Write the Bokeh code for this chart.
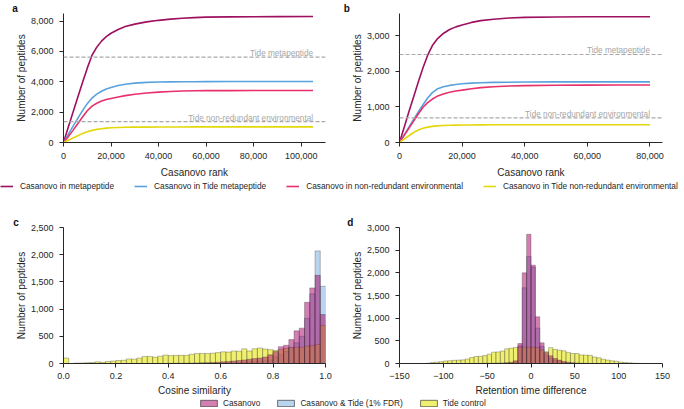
from bokeh.plotting import figure
from bokeh.models import (Range1d, FixedTicker, NumeralTickFormatter, CustomJSTickFormatter,
                          Span, Legend, LegendItem, Title)
from bokeh.layouts import column, row
from bokeh.embed import file_html
from bokeh.resources import INLINE
from bokeh.core.properties import value

FONT = "Liberation Sans"
INK = "#262626"
NAN = float("nan")

# ---------------- data: panel a (metapeptide search, ranks up to ~105k)
rank_a = [0, 2000, 4000, 6000, 8000, 10000, 12000, 14000, 16000, 18000, 20000, 23000,
          26000, 30000, 35000, 40000, 45000, 50000, 55000, 60000, 70000, 80000, 90000, 105000]
a_meta = [0, 1000, 1990, 2980, 3950, 4900, 5750, 6280, 6680, 6980, 7200, 7450,
          7640, 7800, 7950, 8050, 8130, 8190, 8230, 8260, 8280, 8290, 8295, 8300]
a_tide_meta = [0, 530, 1060, 1590, 2100, 2560, 2930, 3190, 3380, 3520, 3630, 3750,
               3840, 3910, 3960, 3985, 3995, 4000, 4005, 4010, 4015, 4020, 4020, 4020]
a_env = [0, 380, 800, 1240, 1680, 2090, 2400, 2590, 2730, 2830, 2900, 3000,
         3090, 3180, 3260, 3320, 3360, 3390, 3405, 3415, 3420, 3425, 3425, 3425]
a_tide_env = [0, 150, 300, 450, 590, 710, 800, 865, 910, 945, 970, 990,
              1000, 1010, 1015, 1020, 1022, 1025, 1027, 1028, 1030, 1030, 1030, 1030]
tide_a = [5630, 1380]

# ---------------- data: panel b
rank_b = [0, 1500, 3000, 4500, 6000, 7500, 9000, 10500, 12000, 14000, 16000, 18000,
          20000, 23000, 26000, 30000, 35000, 40000, 50000, 60000, 70000, 80000]
b_meta = [0, 430, 860, 1280, 1700, 2100, 2450, 2720, 2900, 3060, 3170, 3245,
          3300, 3370, 3420, 3460, 3495, 3510, 3522, 3527, 3530, 3530]
b_tide_meta = [0, 215, 430, 645, 860, 1060, 1250, 1400, 1500, 1565, 1602, 1628,
               1648, 1665, 1677, 1686, 1692, 1696, 1700, 1700, 1700, 1700]
b_env = [0, 200, 400, 600, 800, 990, 1120, 1220, 1295, 1362, 1410, 1445,
         1470, 1510, 1540, 1565, 1585, 1597, 1606, 1610, 1612, 1612]
b_tide_env = [0, 95, 190, 280, 350, 400, 432, 452, 466, 476, 483, 488,
              490, 493, 495, 496, 497, 498, 498, 498, 498, 498]
tide_b = [2470, 690]

tide_labels = ["Tide metapeptide", "Tide non-redundant environmental"]
series_labels = ["Casanovo in metapeptide", "Casanovo in Tide metapeptide",
                 "Casanovo in non-redundant environmental",
                 "Casanovo in Tide non-redundant environmental"]
series_colors = ["#9e1060", "#5aa2dd", "#e8306a", "#e2d80a"]

# ---------------- data: panel c (cosine similarity, bins of 0.02)
cos_edges = [round(i * 0.02, 2) for i in range(51)]
cos_casanovo = [0] * 20 + [2, 3, 4, 5, 7, 10, 12, 15, 18, 22, 30, 38, 45, 55, 65,
                           78, 90, 100, 120, 160, 220, 310, 335, 440, 600,
                           650, 1125, 1390, 1620, 900]
cos_both = [0] * 20 + [1, 1, 2, 2, 3, 3, 4, 5, 6, 8, 10, 12, 15, 18, 22,
                       28, 34, 40, 50, 65, 120, 165, 225, 300, 380,
                       500, 830, 1280, 2070, 1420]
cos_tide = [100, 0, 8, 10, 15, 18, 30, 22, 35, 45,
            55, 60, 85, 80, 100, 130, 130, 115, 135, 155,
            145, 150, 150, 150, 170, 185, 185, 185, 190, 200,
            215, 210, 230, 225, 270, 230, 270, 285, 265, 255,
            240, 260, 280, 290, 300, 300, 320, 330, 350, 700]

# ---------------- data: panel d (retention time difference, bins of 5)
rt_edges = list(range(-120, 126, 5))
rt_tide = [5, 20, 30, 40, 55, 60, 70, 75, 80, 100, 130, 155, 160, 175, 205, 250, 255, 275,
           325, 335, 355, 360, 360, 360,
           360, 350, 300, 260, 350, 310, 295, 280, 245, 220, 220, 190, 185, 180, 145, 125,
           95, 75, 60, 50, 30, 22, 15, 8, 3]
rt_casanovo = [0] * 12 + [2, 3, 4, 6, 8, 12, 18, 28, 60, 440, 2000, 2850,
                          2170, 1030, 455, 240, 170, 110, 75, 45, 30, 18, 10, 6, 3] + [0] * 12
rt_both = [0] * 16 + [4, 6, 10, 15, 35, 390, 1670, 2360,
                      2130, 780, 380, 190, 120, 75, 50, 30, 18, 10, 6, 3] + [0] * 13

hist_labels = ["Casanovo", "Casanovo & Tide (1% FDR)", "Tide control"]
hist_fill = ["#a80c6c", "#7eb1e0", "#e6e611"]
hist_alpha = [0.52, 0.55, 0.6]
EDGE = "#2a2a2a"
panel_letters = ["a", "b", "c", "d"]


def style(p, xlabel, ylabel, let, letx):
    p.title = Title(text=let, align="left", offset=letx, standoff=0, text_font=FONT,
                    text_font_size="10px", text_font_style="bold", text_color="#111111")
    p.xaxis.axis_label = xlabel
    p.yaxis.axis_label = ylabel
    for ax in (p.xaxis[0], p.yaxis[0]):
        ax.axis_line_color = INK
        ax.axis_line_width = 1
        ax.major_tick_line_color = INK
        ax.major_tick_out = 4
        ax.major_tick_in = 0
        ax.minor_tick_line_color = None
        ax.major_label_text_font = FONT
        ax.major_label_text_font_size = "9px"
        ax.major_label_text_color = INK
        ax.axis_label_text_font = FONT
        ax.axis_label_text_font_size = "10px"
        ax.axis_label_text_font_style = "normal"
        ax.axis_label_text_color = INK
    p.yaxis.major_label_standoff = 6
    p.yaxis.axis_label_standoff = 1
    p.xgrid.visible = False
    p.ygrid.visible = False
    p.outline_line_color = None


def curve_panel(width, left, right, xr, yr, ranks, ys, tides, xticks, yticks, let, letx):
    p = figure(width=width, height=180, x_range=Range1d(0, xr), y_range=Range1d(0, yr),
               output_backend="svg", toolbar_location=None,
               min_border_left=left, min_border_right=right, min_border_top=1, min_border_bottom=34)
    style(p, "Casanovo rank", "Number of peptides", let, letx)
    p.xaxis.major_label_standoff = 6
    p.xaxis.axis_label_standoff = 5
    p.xaxis.ticker = FixedTicker(ticks=xticks)
    p.yaxis.ticker = FixedTicker(ticks=yticks)
    p.xaxis.formatter = NumeralTickFormatter(format="0,0")
    p.yaxis.formatter = NumeralTickFormatter(format="0,0")
    for t in tides:
        p.add_layout(Span(location=t, dimension="width", line_color="#a9a9a9",
                          line_dash="4 2", line_width=1.2))
    p.text(x=[ranks[-1]] * len(tides), y=tides, text=tide_labels, text_align="right",
           text_baseline="alphabetic", y_offset=-3.5, text_font=value(FONT),
           text_font_size="8.2px", text_color="#a6a6a6")
    for yv, c in zip(ys, series_colors):
        p.line(ranks, yv, line_color=c, line_width=1.6)
    return p


def hist_panel(width, left, right, xr, yr, edges, series, xticks, yticks, xlabel, let, letx):
    p = figure(width=width, height=206, x_range=Range1d(*xr), y_range=Range1d(0, yr),
               output_backend="svg", toolbar_location=None,
               min_border_left=left, min_border_right=right, min_border_top=35, min_border_bottom=34)
    style(p, xlabel, "Number of peptides", let, letx)
    p.xaxis.major_label_standoff = 5
    p.xaxis.axis_label_standoff = 3
    p.xaxis.ticker = FixedTicker(ticks=xticks)
    p.yaxis.ticker = FixedTicker(ticks=yticks)
    p.yaxis.formatter = NumeralTickFormatter(format="0,0")
    # draw order: Casanovo & Tide, Tide control, Casanovo on top
    for idx in (1, 2, 0):
        counts = series[idx]
        keep = [i for i, c in enumerate(counts) if c > 0]
        p.quad(left=[edges[i] for i in keep], right=[edges[i + 1] for i in keep],
               bottom=0, top=[counts[i] for i in keep],
               fill_color=hist_fill[idx], fill_alpha=hist_alpha[idx],
               line_color=EDGE, line_alpha=0.5, line_width=0.6)
    return p


pa = curve_panel(338, 63, 13, 110250, 8500, rank_a, [a_meta, a_tide_meta, a_env, a_tide_env],
                 tide_a, [0, 20000, 40000, 60000, 80000, 100000], [0, 2000, 4000, 6000, 8000],
                 panel_letters[0], -51.3)
pb = curve_panel(346, 61, 22, 84000, 3620, rank_b, [b_meta, b_tide_meta, b_env, b_tide_env],
                 tide_b, [0, 20000, 40000, 60000, 80000], [0, 1000, 2000, 3000],
                 panel_letters[1], -55.7)

pc = hist_panel(338, 63, 13, (0, 1), 2500, cos_edges, [cos_casanovo, cos_both, cos_tide],
                [0, 0.2, 0.4, 0.6, 0.8, 1.0], [0, 500, 1000, 1500, 2000, 2500],
                "Cosine similarity", panel_letters[2], -50.3)
pc.xaxis.formatter = NumeralTickFormatter(format="0.0")
pd_ = hist_panel(346, 61, 22, (-150, 150), 3000, rt_edges, [rt_casanovo, rt_both, rt_tide],
                 [-150, -100, -50, 0, 50, 100, 150], [0, 500, 1000, 1500, 2000, 2500, 3000],
                 "Retention time difference", panel_letters[3], -52.3)
pd_.xaxis.formatter = CustomJSTickFormatter(
    code="return tick < 0 ? '\u2212' + Math.abs(tick) : String(tick);")

# ---------------- legend rows
leg1 = figure(width=684, height=12, x_range=Range1d(0, 1), y_range=Range1d(0, 1),
              output_backend="svg", toolbar_location=None, min_border=0,
              x_axis_type=None, y_axis_type=None, outline_line_color=None)
items1 = []
for lab, c in zip(series_labels, series_colors):
    r = leg1.line(x=[NAN], y=[NAN], line_color=c, line_width=1.6)
    items1.append(LegendItem(label=lab, renderers=[r]))
leg1.add_layout(Legend(items=items1, orientation="horizontal", location=(0, 1),
                       glyph_width=13, glyph_height=10, label_height=10, label_width=0,
                       label_standoff=7, spacing=20, padding=0, margin=0,
                       border_line_color=None, background_fill_alpha=0,
                       label_text_font=FONT, label_text_font_size="8.3px",
                       label_text_color=INK), "center")

leg2 = figure(width=684, height=11, x_range=Range1d(0, 1), y_range=Range1d(0, 1),
              output_backend="svg", toolbar_location=None, min_border=0,
              x_axis_type=None, y_axis_type=None, outline_line_color=None)
items2 = []
for lab, c, a in zip(hist_labels, hist_fill, hist_alpha):
    r = leg2.quad(left=[NAN], right=[NAN], top=[NAN], bottom=[NAN], fill_color=c, fill_alpha=a,
                  line_color=EDGE, line_alpha=0.8, line_width=0.8)
    items2.append(LegendItem(label=lab, renderers=[r]))
leg2.add_layout(Legend(items=items2, orientation="horizontal", location=(198, 1),
                       glyph_width=21, glyph_height=8, label_height=9, label_width=0,
                       label_standoff=4, spacing=15, padding=0, margin=0,
                       border_line_color=None, background_fill_alpha=0,
                       label_text_font=FONT, label_text_font_size="8.3px",
                       label_text_color=INK), "center")

layout = column(row(pa, pb), leg1, row(pc, pd_), leg2)
open("out.html", "w", encoding="utf-8").write(file_html(layout, INLINE))
